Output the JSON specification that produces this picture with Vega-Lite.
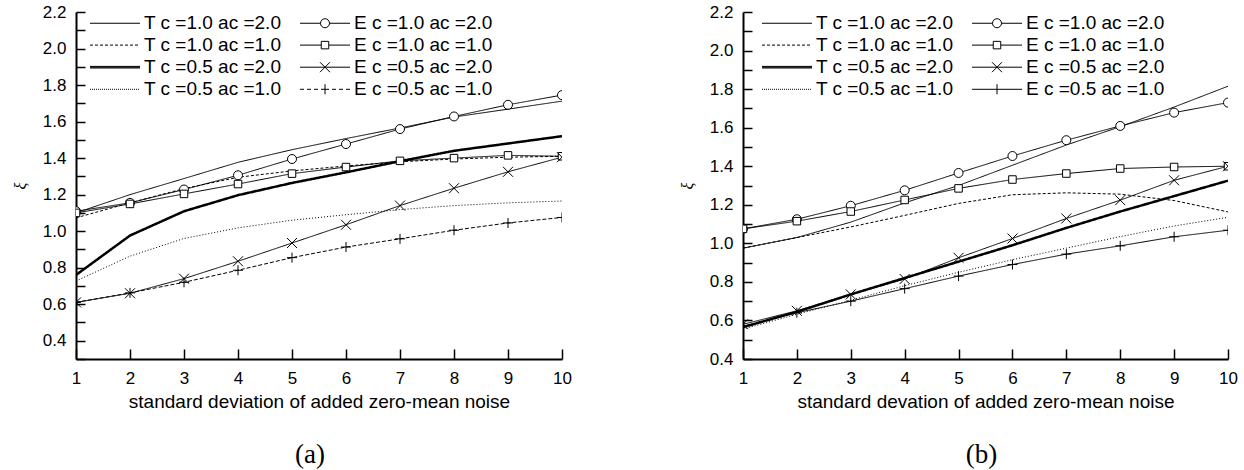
{
  "$schema": "https://vega.github.io/schema/vega-lite/v6.json",
  "background": "white",
  "padding": {"left": 12, "top": 3, "right": 3, "bottom": 3},
  "config": {
    "view": {"stroke": null},
    "font": "Liberation Sans",
    "axis": {
      "grid": false,
      "domainColor": "black",
      "domainWidth": 2,
      "tickColor": "black",
      "tickWidth": 1.5,
      "labelColor": "black",
      "labelFont": "Liberation Sans",
      "labelFontSize": 17,
      "labelFlush": false,
      "labelOverlap": false,
      "titleColor": "black",
      "titleFont": "Liberation Sans",
      "titleFontSize": 19,
      "titleFontWeight": "normal"
    },
    "legend": {
      "orient": "none",
      "columns": 2,
      "title": null,
      "symbolSize": 100,
      "symbolOffset": 15.5,
      "labelOffset": 19.5,
      "symbolStrokeWidth": 1,
      "labelFont": "Liberation Sans",
      "labelFontSize": 19,
      "labelColor": "black",
      "labelLimit": 400,
      "rowPadding": 2.1,
      "columnPadding": 16,
      "padding": 0
    },
    "title": {"font": "Liberation Serif", "fontSize": 27, "fontWeight": "normal", "color": "black", "orient": "bottom", "anchor": "middle", "frame": "group", "offset": 31}
  },
  "datasets": {
    "a": [
      {"series": "T c =1.0 ac =2.0", "x": 1, "y": 1.10}, {"series": "T c =1.0 ac =2.0", "x": 2, "y": 1.20}, {"series": "T c =1.0 ac =2.0", "x": 3, "y": 1.288}, {"series": "T c =1.0 ac =2.0", "x": 4, "y": 1.377}, {"series": "T c =1.0 ac =2.0", "x": 5, "y": 1.446}, {"series": "T c =1.0 ac =2.0", "x": 6, "y": 1.507}, {"series": "T c =1.0 ac =2.0", "x": 7, "y": 1.565}, {"series": "T c =1.0 ac =2.0", "x": 8, "y": 1.625}, {"series": "T c =1.0 ac =2.0", "x": 9, "y": 1.668}, {"series": "T c =1.0 ac =2.0", "x": 10, "y": 1.712},
      {"series": "T c =1.0 ac =1.0", "x": 1, "y": 1.073}, {"series": "T c =1.0 ac =1.0", "x": 2, "y": 1.155}, {"series": "T c =1.0 ac =1.0", "x": 3, "y": 1.233}, {"series": "T c =1.0 ac =1.0", "x": 4, "y": 1.295}, {"series": "T c =1.0 ac =1.0", "x": 5, "y": 1.33}, {"series": "T c =1.0 ac =1.0", "x": 6, "y": 1.357}, {"series": "T c =1.0 ac =1.0", "x": 7, "y": 1.38}, {"series": "T c =1.0 ac =1.0", "x": 8, "y": 1.395}, {"series": "T c =1.0 ac =1.0", "x": 9, "y": 1.405}, {"series": "T c =1.0 ac =1.0", "x": 10, "y": 1.41},
      {"series": "T c =0.5 ac =2.0", "x": 1, "y": 0.76}, {"series": "T c =0.5 ac =2.0", "x": 2, "y": 0.976}, {"series": "T c =0.5 ac =2.0", "x": 3, "y": 1.109}, {"series": "T c =0.5 ac =2.0", "x": 4, "y": 1.197}, {"series": "T c =0.5 ac =2.0", "x": 5, "y": 1.264}, {"series": "T c =0.5 ac =2.0", "x": 6, "y": 1.322}, {"series": "T c =0.5 ac =2.0", "x": 7, "y": 1.383}, {"series": "T c =0.5 ac =2.0", "x": 8, "y": 1.44}, {"series": "T c =0.5 ac =2.0", "x": 9, "y": 1.48}, {"series": "T c =0.5 ac =2.0", "x": 10, "y": 1.52},
      {"series": "T c =0.5 ac =1.0", "x": 1, "y": 0.727}, {"series": "T c =0.5 ac =1.0", "x": 2, "y": 0.863}, {"series": "T c =0.5 ac =1.0", "x": 3, "y": 0.96}, {"series": "T c =0.5 ac =1.0", "x": 4, "y": 1.018}, {"series": "T c =0.5 ac =1.0", "x": 5, "y": 1.06}, {"series": "T c =0.5 ac =1.0", "x": 6, "y": 1.09}, {"series": "T c =0.5 ac =1.0", "x": 7, "y": 1.118}, {"series": "T c =0.5 ac =1.0", "x": 8, "y": 1.14}, {"series": "T c =0.5 ac =1.0", "x": 9, "y": 1.155}, {"series": "T c =0.5 ac =1.0", "x": 10, "y": 1.165},
      {"series": "E c =1.0 ac =2.0", "x": 1, "y": 1.109}, {"series": "E c =1.0 ac =2.0", "x": 2, "y": 1.155}, {"series": "E c =1.0 ac =2.0", "x": 3, "y": 1.228}, {"series": "E c =1.0 ac =2.0", "x": 4, "y": 1.306}, {"series": "E c =1.0 ac =2.0", "x": 5, "y": 1.395}, {"series": "E c =1.0 ac =2.0", "x": 6, "y": 1.477}, {"series": "E c =1.0 ac =2.0", "x": 7, "y": 1.559}, {"series": "E c =1.0 ac =2.0", "x": 8, "y": 1.628}, {"series": "E c =1.0 ac =2.0", "x": 9, "y": 1.692}, {"series": "E c =1.0 ac =2.0", "x": 10, "y": 1.745},
      {"series": "E c =1.0 ac =1.0", "x": 1, "y": 1.10}, {"series": "E c =1.0 ac =1.0", "x": 2, "y": 1.149}, {"series": "E c =1.0 ac =1.0", "x": 3, "y": 1.204}, {"series": "E c =1.0 ac =1.0", "x": 4, "y": 1.258}, {"series": "E c =1.0 ac =1.0", "x": 5, "y": 1.315}, {"series": "E c =1.0 ac =1.0", "x": 6, "y": 1.351}, {"series": "E c =1.0 ac =1.0", "x": 7, "y": 1.385}, {"series": "E c =1.0 ac =1.0", "x": 8, "y": 1.40}, {"series": "E c =1.0 ac =1.0", "x": 9, "y": 1.415}, {"series": "E c =1.0 ac =1.0", "x": 10, "y": 1.41},
      {"series": "E c =0.5 ac =2.0", "x": 1, "y": 0.61}, {"series": "E c =0.5 ac =2.0", "x": 2, "y": 0.66}, {"series": "E c =0.5 ac =2.0", "x": 3, "y": 0.74}, {"series": "E c =0.5 ac =2.0", "x": 4, "y": 0.835}, {"series": "E c =0.5 ac =2.0", "x": 5, "y": 0.935}, {"series": "E c =0.5 ac =2.0", "x": 6, "y": 1.035}, {"series": "E c =0.5 ac =2.0", "x": 7, "y": 1.14}, {"series": "E c =0.5 ac =2.0", "x": 8, "y": 1.235}, {"series": "E c =0.5 ac =2.0", "x": 9, "y": 1.325}, {"series": "E c =0.5 ac =2.0", "x": 10, "y": 1.405},
      {"series": "E c =0.5 ac =1.0", "x": 1, "y": 0.61}, {"series": "E c =0.5 ac =1.0", "x": 2, "y": 0.662}, {"series": "E c =0.5 ac =1.0", "x": 3, "y": 0.72}, {"series": "E c =0.5 ac =1.0", "x": 4, "y": 0.786}, {"series": "E c =0.5 ac =1.0", "x": 5, "y": 0.855}, {"series": "E c =0.5 ac =1.0", "x": 6, "y": 0.913}, {"series": "E c =0.5 ac =1.0", "x": 7, "y": 0.958}, {"series": "E c =0.5 ac =1.0", "x": 8, "y": 1.005}, {"series": "E c =0.5 ac =1.0", "x": 9, "y": 1.045}, {"series": "E c =0.5 ac =1.0", "x": 10, "y": 1.075}
    ],
    "b": [
      {"series": "T c =1.0 ac =2.0", "x": 1, "y": 0.975}, {"series": "T c =1.0 ac =2.0", "x": 2, "y": 1.03}, {"series": "T c =1.0 ac =2.0", "x": 3, "y": 1.11}, {"series": "T c =1.0 ac =2.0", "x": 4, "y": 1.21}, {"series": "T c =1.0 ac =2.0", "x": 5, "y": 1.30}, {"series": "T c =1.0 ac =2.0", "x": 6, "y": 1.405}, {"series": "T c =1.0 ac =2.0", "x": 7, "y": 1.51}, {"series": "T c =1.0 ac =2.0", "x": 8, "y": 1.605}, {"series": "T c =1.0 ac =2.0", "x": 9, "y": 1.707}, {"series": "T c =1.0 ac =2.0", "x": 10, "y": 1.815},
      {"series": "T c =1.0 ac =1.0", "x": 1, "y": 0.975}, {"series": "T c =1.0 ac =1.0", "x": 2, "y": 1.03}, {"series": "T c =1.0 ac =1.0", "x": 3, "y": 1.085}, {"series": "T c =1.0 ac =1.0", "x": 4, "y": 1.145}, {"series": "T c =1.0 ac =1.0", "x": 5, "y": 1.207}, {"series": "T c =1.0 ac =1.0", "x": 6, "y": 1.252}, {"series": "T c =1.0 ac =1.0", "x": 7, "y": 1.262}, {"series": "T c =1.0 ac =1.0", "x": 8, "y": 1.255}, {"series": "T c =1.0 ac =1.0", "x": 9, "y": 1.222}, {"series": "T c =1.0 ac =1.0", "x": 10, "y": 1.163},
      {"series": "T c =0.5 ac =2.0", "x": 1, "y": 0.565}, {"series": "T c =0.5 ac =2.0", "x": 2, "y": 0.645}, {"series": "T c =0.5 ac =2.0", "x": 3, "y": 0.735}, {"series": "T c =0.5 ac =2.0", "x": 4, "y": 0.82}, {"series": "T c =0.5 ac =2.0", "x": 5, "y": 0.905}, {"series": "T c =0.5 ac =2.0", "x": 6, "y": 0.99}, {"series": "T c =0.5 ac =2.0", "x": 7, "y": 1.08}, {"series": "T c =0.5 ac =2.0", "x": 8, "y": 1.165}, {"series": "T c =0.5 ac =2.0", "x": 9, "y": 1.245}, {"series": "T c =0.5 ac =2.0", "x": 10, "y": 1.325},
      {"series": "T c =0.5 ac =1.0", "x": 1, "y": 0.555}, {"series": "T c =0.5 ac =1.0", "x": 2, "y": 0.632}, {"series": "T c =0.5 ac =1.0", "x": 3, "y": 0.705}, {"series": "T c =0.5 ac =1.0", "x": 4, "y": 0.78}, {"series": "T c =0.5 ac =1.0", "x": 5, "y": 0.85}, {"series": "T c =0.5 ac =1.0", "x": 6, "y": 0.915}, {"series": "T c =0.5 ac =1.0", "x": 7, "y": 0.975}, {"series": "T c =0.5 ac =1.0", "x": 8, "y": 1.035}, {"series": "T c =0.5 ac =1.0", "x": 9, "y": 1.09}, {"series": "T c =0.5 ac =1.0", "x": 10, "y": 1.135},
      {"series": "E c =1.0 ac =2.0", "x": 1, "y": 1.075}, {"series": "E c =1.0 ac =2.0", "x": 2, "y": 1.125}, {"series": "E c =1.0 ac =2.0", "x": 3, "y": 1.195}, {"series": "E c =1.0 ac =2.0", "x": 4, "y": 1.275}, {"series": "E c =1.0 ac =2.0", "x": 5, "y": 1.365}, {"series": "E c =1.0 ac =2.0", "x": 6, "y": 1.453}, {"series": "E c =1.0 ac =2.0", "x": 7, "y": 1.535}, {"series": "E c =1.0 ac =2.0", "x": 8, "y": 1.609}, {"series": "E c =1.0 ac =2.0", "x": 9, "y": 1.678}, {"series": "E c =1.0 ac =2.0", "x": 10, "y": 1.73},
      {"series": "E c =1.0 ac =1.0", "x": 1, "y": 1.075}, {"series": "E c =1.0 ac =1.0", "x": 2, "y": 1.115}, {"series": "E c =1.0 ac =1.0", "x": 3, "y": 1.165}, {"series": "E c =1.0 ac =1.0", "x": 4, "y": 1.225}, {"series": "E c =1.0 ac =1.0", "x": 5, "y": 1.285}, {"series": "E c =1.0 ac =1.0", "x": 6, "y": 1.331}, {"series": "E c =1.0 ac =1.0", "x": 7, "y": 1.362}, {"series": "E c =1.0 ac =1.0", "x": 8, "y": 1.388}, {"series": "E c =1.0 ac =1.0", "x": 9, "y": 1.396}, {"series": "E c =1.0 ac =1.0", "x": 10, "y": 1.40},
      {"series": "E c =0.5 ac =2.0", "x": 1, "y": 0.58}, {"series": "E c =0.5 ac =2.0", "x": 2, "y": 0.65}, {"series": "E c =0.5 ac =2.0", "x": 3, "y": 0.735}, {"series": "E c =0.5 ac =2.0", "x": 4, "y": 0.815}, {"series": "E c =0.5 ac =2.0", "x": 5, "y": 0.925}, {"series": "E c =0.5 ac =2.0", "x": 6, "y": 1.025}, {"series": "E c =0.5 ac =2.0", "x": 7, "y": 1.129}, {"series": "E c =0.5 ac =2.0", "x": 8, "y": 1.224}, {"series": "E c =0.5 ac =2.0", "x": 9, "y": 1.327}, {"series": "E c =0.5 ac =2.0", "x": 10, "y": 1.40},
      {"series": "E c =0.5 ac =1.0", "x": 1, "y": 0.57}, {"series": "E c =0.5 ac =1.0", "x": 2, "y": 0.64}, {"series": "E c =0.5 ac =1.0", "x": 3, "y": 0.70}, {"series": "E c =0.5 ac =1.0", "x": 4, "y": 0.765}, {"series": "E c =0.5 ac =1.0", "x": 5, "y": 0.83}, {"series": "E c =0.5 ac =1.0", "x": 6, "y": 0.89}, {"series": "E c =0.5 ac =1.0", "x": 7, "y": 0.944}, {"series": "E c =0.5 ac =1.0", "x": 8, "y": 0.987}, {"series": "E c =0.5 ac =1.0", "x": 9, "y": 1.034}, {"series": "E c =0.5 ac =1.0", "x": 10, "y": 1.068}
    ]
  },
  "spacing": 107,
  "resolve": {
    "scale": {"x": "independent", "y": "independent", "strokeDash": "independent", "shape": "independent"},
    "legend": {"strokeDash": "independent", "shape": "independent"}
  },
  "hconcat": [
    {
      "width": 486,
      "height": 347,
      "data": {"name": "a"},
      "title": {"text": "(a)", "dx": -9},
      "encoding": {
        "x": {"field": "x", "type": "quantitative", "scale": {"domain": [1, 10], "nice": false, "zero": false},
          "axis": {"values": [1, 2, 3, 4, 5, 6, 7, 8, 9, 10], "format": "d", "labelOverlap": false, "tickSize": -10, "labelPadding": 21, "title": "standard deviation of added zero-mean noise", "titlePadding": 6}},
        "y": {"field": "y", "type": "quantitative", "scale": {"domain": [0.3, 2.2], "nice": false, "zero": false},
          "axis": {"values": [0.3, 0.4, 0.5, 0.6, 0.7, 0.8, 0.9, 1.0, 1.1, 1.2, 1.3, 1.4, 1.5, 1.6, 1.7, 1.8, 1.9, 2.0, 2.1, 2.2], "labelExpr": "round(datum.value * 10) % 2 == 0 ? format(datum.value, '.1f') : ''", "labelOverlap": false, "tickSize": -9, "labelPadding": 19, "title": "ξ", "titleFont": "Liberation Serif", "titleFontStyle": "italic", "titleFontSize": 16, "titlePadding": 14}}
      },
      "layer": [
        {
          "mark": {"type": "line", "color": "black", "clip": true},
          "encoding": {
            "strokeDash": {"field": "series", "type": "nominal",
              "scale": {"domain": ["E c =0.5 ac =1.0", "E c =0.5 ac =2.0", "E c =1.0 ac =1.0", "E c =1.0 ac =2.0", "T c =0.5 ac =1.0", "T c =0.5 ac =2.0", "T c =1.0 ac =1.0", "T c =1.0 ac =2.0"],
                "range": [[4, 2], [1, 0], [1, 0], [1, 0], [1, 2], [1, 0], [3, 2], [1, 0]]},
              "legend": null},
            "strokeWidth": {"condition": {"test": "datum.series == 'T c =0.5 ac =2.0'", "value": 2.5}, "value": 1}
          }
        },
        {
          "transform": [{"filter": "false"}],
          "mark": {"type": "point", "fill": "white", "stroke": "black", "strokeWidth": 1, "opacity": 1, "size": 100},
          "encoding": {
            "shape": {"field": "series", "type": "nominal",
              "scale": {"domain": ["T c =1.0 ac =2.0", "T c =1.0 ac =1.0", "T c =0.5 ac =2.0", "T c =0.5 ac =1.0", "E c =1.0 ac =2.0", "E c =1.0 ac =1.0", "E c =0.5 ac =2.0", "E c =0.5 ac =1.0"],
                "range": [
                  "M-5,0H5",
                  "M-5,0H-4.4M-4,0H-3.4M-3,0H-2.4M-2,0H-1.4M-1,0H-0.4M0,0H0.6M1,0H1.6M2,0H2.6M3,0H3.6M4,0H4.6",
                  "M-5,-0.16H5M-5,0H5M-5,0.16H5",
                  "M-5,0h0.2m0.2,0h0.2m0.2,0h0.2m0.2,0h0.2m0.2,0h0.2m0.2,0h0.2m0.2,0h0.2m0.2,0h0.2m0.2,0h0.2m0.2,0h0.2m0.2,0h0.2m0.2,0h0.2m0.2,0h0.2m0.2,0h0.2m0.2,0h0.2m0.2,0h0.2m0.2,0h0.2m0.2,0h0.2m0.2,0h0.2m0.2,0h0.2m0.2,0h0.2m0.2,0h0.2m0.2,0h0.2m0.2,0h0.2m0.2,0h0.2",
                  "M-5,0H-0.9M0.9,0H5M0.9,0A0.9,0.9,0,1,1,-0.9,0A0.9,0.9,0,1,1,0.9,0Z",
                  "M-5,0H-0.75M0.75,0H5M-0.75,-0.75H0.75V0.75H-0.75Z",
                  "M-5,0H5M-1,-1L1,1M-1,1L1,-1",
                  "M-5,0H-4.2M-3.6,0H-2.8M-2.2,0H-1.4M-0.8,0H0.8M1.4,0H2.2M2.8,0H3.6M4.2,0H5M0,-1V1"
                ]},
              "legend": {"legendX": 14, "legendY": 1.5}}
          }
        },
        {
          "transform": [{"filter": "datum.series == 'E c =1.0 ac =2.0'"}],
          "mark": {"type": "point", "shape": "M0.9,0A0.9,0.9,0,1,1,-0.9,0A0.9,0.9,0,1,1,0.9,0Z", "size": 100, "fill": "white", "stroke": "black", "strokeWidth": 1, "opacity": 1, "clip": true}
        },
        {
          "transform": [{"filter": "datum.series == 'E c =1.0 ac =1.0'"}],
          "mark": {"type": "point", "shape": "M-0.75,-0.75H0.75V0.75H-0.75Z", "size": 100, "fill": "white", "stroke": "black", "strokeWidth": 1, "opacity": 1, "clip": true}
        },
        {
          "transform": [{"filter": "datum.series == 'E c =0.5 ac =2.0'"}],
          "mark": {"type": "point", "shape": "M-1,-1L1,1M-1,1L1,-1", "size": 100, "fill": "white", "stroke": "black", "strokeWidth": 1, "opacity": 1, "clip": true}
        },
        {
          "transform": [{"filter": "datum.series == 'E c =0.5 ac =1.0'"}],
          "mark": {"type": "point", "shape": "M-1,0H1M0,-1V1", "size": 100, "fill": "white", "stroke": "black", "strokeWidth": 1, "opacity": 1, "clip": true}
        }
      ]
    },
    {
      "width": 485,
      "height": 347,
      "data": {"name": "b"},
      "title": {"text": "(b)", "dx": -4},
      "encoding": {
        "x": {"field": "x", "type": "quantitative", "scale": {"domain": [1, 10], "nice": false, "zero": false},
          "axis": {"values": [1, 2, 3, 4, 5, 6, 7, 8, 9, 10], "format": "d", "labelOverlap": false, "tickSize": -10, "labelPadding": 21, "title": "standard devation of added zero-mean noise", "titlePadding": 6}},
        "y": {"field": "y", "type": "quantitative", "scale": {"domain": [0.4, 2.2], "nice": false, "zero": false},
          "axis": {"values": [0.4, 0.5, 0.6, 0.7, 0.8, 0.9, 1.0, 1.1, 1.2, 1.3, 1.4, 1.5, 1.6, 1.7, 1.8, 1.9, 2.0, 2.1, 2.2], "labelExpr": "round(datum.value * 10) % 2 == 0 ? format(datum.value, '.1f') : ''", "labelOverlap": false, "tickSize": -9, "labelPadding": 19, "title": "ξ", "titleFont": "Liberation Serif", "titleFontStyle": "italic", "titleFontSize": 16, "titlePadding": 14}}
      },
      "layer": [
        {
          "mark": {"type": "line", "color": "black", "clip": true},
          "encoding": {
            "strokeDash": {"field": "series", "type": "nominal",
              "scale": {"domain": ["E c =0.5 ac =1.0", "E c =0.5 ac =2.0", "E c =1.0 ac =1.0", "E c =1.0 ac =2.0", "T c =0.5 ac =1.0", "T c =0.5 ac =2.0", "T c =1.0 ac =1.0", "T c =1.0 ac =2.0"],
                "range": [[1, 0], [1, 0], [1, 0], [1, 0], [1, 2], [1, 0], [3, 2], [1, 0]]},
              "legend": null},
            "strokeWidth": {"condition": {"test": "datum.series == 'T c =0.5 ac =2.0'", "value": 2.5}, "value": 1}
          }
        },
        {
          "transform": [{"filter": "false"}],
          "mark": {"type": "point", "fill": "white", "stroke": "black", "strokeWidth": 1, "opacity": 1, "size": 100},
          "encoding": {
            "shape": {"field": "series", "type": "nominal",
              "scale": {"domain": ["T c =1.0 ac =2.0", "T c =1.0 ac =1.0", "T c =0.5 ac =2.0", "T c =0.5 ac =1.0", "E c =1.0 ac =2.0", "E c =1.0 ac =1.0", "E c =0.5 ac =2.0", "E c =0.5 ac =1.0"],
                "range": [
                  "M-5,0H5",
                  "M-5,0H-4.4M-4,0H-3.4M-3,0H-2.4M-2,0H-1.4M-1,0H-0.4M0,0H0.6M1,0H1.6M2,0H2.6M3,0H3.6M4,0H4.6",
                  "M-5,-0.16H5M-5,0H5M-5,0.16H5",
                  "M-5,0h0.2m0.2,0h0.2m0.2,0h0.2m0.2,0h0.2m0.2,0h0.2m0.2,0h0.2m0.2,0h0.2m0.2,0h0.2m0.2,0h0.2m0.2,0h0.2m0.2,0h0.2m0.2,0h0.2m0.2,0h0.2m0.2,0h0.2m0.2,0h0.2m0.2,0h0.2m0.2,0h0.2m0.2,0h0.2m0.2,0h0.2m0.2,0h0.2m0.2,0h0.2m0.2,0h0.2m0.2,0h0.2m0.2,0h0.2m0.2,0h0.2",
                  "M-5,0H-0.9M0.9,0H5M0.9,0A0.9,0.9,0,1,1,-0.9,0A0.9,0.9,0,1,1,0.9,0Z",
                  "M-5,0H-0.75M0.75,0H5M-0.75,-0.75H0.75V0.75H-0.75Z",
                  "M-5,0H5M-1,-1L1,1M-1,1L1,-1",
                  "M-5,0H5M0,-1V1"
                ]},
              "legend": {"legendX": 19, "legendY": 1.5}}
          }
        },
        {
          "transform": [{"filter": "datum.series == 'E c =1.0 ac =2.0'"}],
          "mark": {"type": "point", "shape": "M0.9,0A0.9,0.9,0,1,1,-0.9,0A0.9,0.9,0,1,1,0.9,0Z", "size": 100, "fill": "white", "stroke": "black", "strokeWidth": 1, "opacity": 1, "clip": true}
        },
        {
          "transform": [{"filter": "datum.series == 'E c =1.0 ac =1.0'"}],
          "mark": {"type": "point", "shape": "M-0.75,-0.75H0.75V0.75H-0.75Z", "size": 100, "fill": "white", "stroke": "black", "strokeWidth": 1, "opacity": 1, "clip": true}
        },
        {
          "transform": [{"filter": "datum.series == 'E c =0.5 ac =2.0'"}],
          "mark": {"type": "point", "shape": "M-1,-1L1,1M-1,1L1,-1", "size": 100, "fill": "white", "stroke": "black", "strokeWidth": 1, "opacity": 1, "clip": true}
        },
        {
          "transform": [{"filter": "datum.series == 'E c =0.5 ac =1.0'"}],
          "mark": {"type": "point", "shape": "M-1,0H1M0,-1V1", "size": 100, "fill": "white", "stroke": "black", "strokeWidth": 1, "opacity": 1, "clip": true}
        }
      ]
    }
  ]
}
